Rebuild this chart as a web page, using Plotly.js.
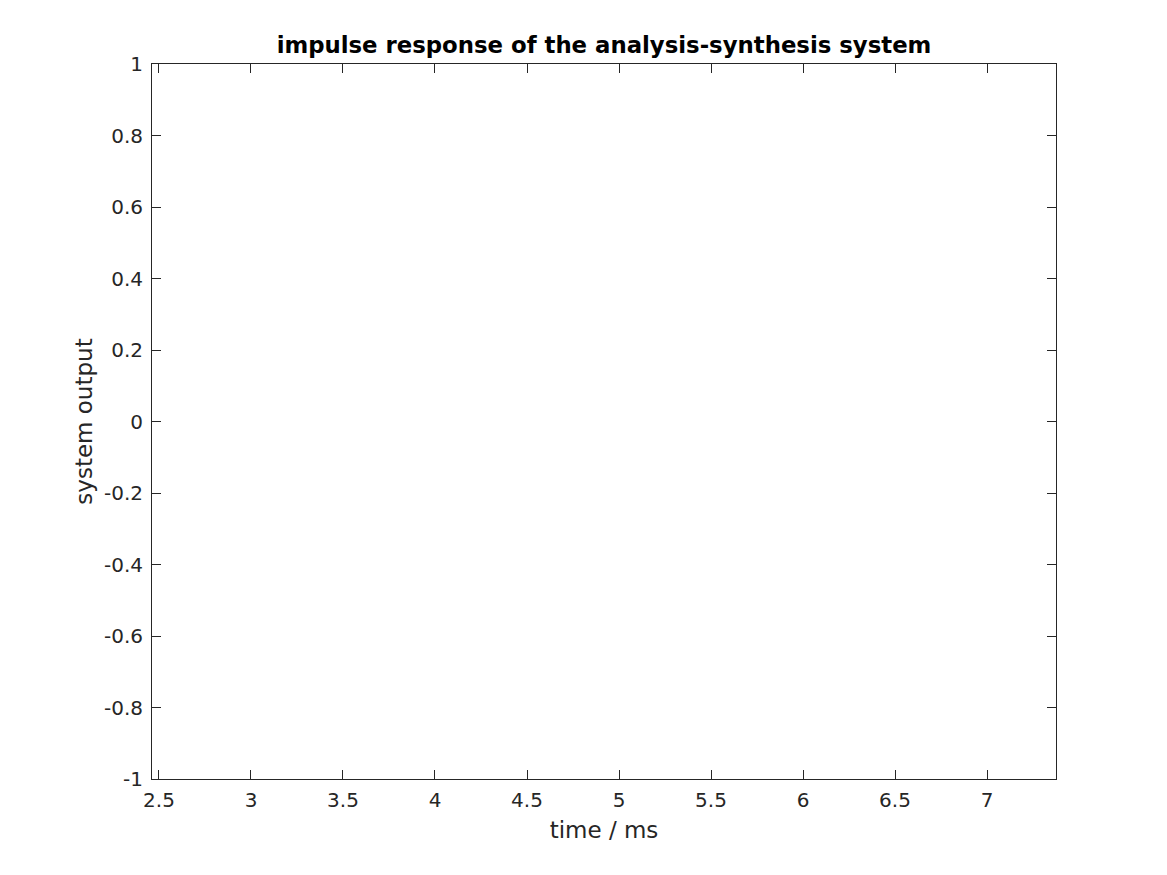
<!DOCTYPE html>
<html>
<head>
<meta charset="utf-8">
<script src="https://cdn.plot.ly/plotly-3.0.1.min.js"></script>
<style>html,body{margin:0;padding:0;background:#fff;}#chart{width:1167px;height:875px;}</style>
</head>
<body>
<div id="chart"></div>
<script>
// The reference shows an empty axes: no visible samples.
const time_ms = [];
const system_output = [];
const xTickVals = [2.5, 3, 3.5, 4, 4.5, 5, 5.5, 6, 6.5, 7];
const xTickText = ['2.5', '3', '3.5', '4', '4.5', '5', '5.5', '6', '6.5', '7'];
const yTickVals = [-1, -0.8, -0.6, -0.4, -0.2, 0, 0.2, 0.4, 0.6, 0.8, 1];
const yTickText = ['-1', '-0.8', '-0.6', '-0.4', '-0.2', '0', '0.2', '0.4', '0.6', '0.8', '1'];

const axisCommon = {
  showgrid: false, zeroline: false, showline: true, mirror: 'ticks',
  linecolor: '#262626', linewidth: 1, ticks: 'inside', ticklen: 9,
  tickcolor: '#262626', tickwidth: 1,
  tickfont: {family: 'DejaVu Sans', size: 20, color: '#262626'},
  tickmode: 'array'
};

Plotly.newPlot('chart', [{
  x: time_ms, y: system_output, type: 'scatter', mode: 'lines',
  line: {color: '#0072bd', width: 1}, showlegend: false
}], {
  width: 1167, height: 875,
  paper_bgcolor: '#ffffff', plot_bgcolor: '#ffffff',
  margin: {l: 152, r: 111, t: 64, b: 96},
  title: {text: '<b>impulse response of the analysis-synthesis system</b>',
    font: {family: 'DejaVu Sans', size: 22.8, color: '#000000'},
    x: 0.5, xanchor: 'center', xref: 'paper', y: 1, yref: 'paper', yanchor: 'bottom', pad: {b: 11}},
  xaxis: Object.assign({}, axisCommon, {
    range: [2.462, 7.375], tickvals: xTickVals, ticktext: xTickText,
    ticklabelstandoff: 3,
    title: {text: 'time / ms', font: {family: 'DejaVu Sans', size: 23, color: '#262626'}, standoff: 10}
  }),
  yaxis: Object.assign({}, axisCommon, {
    range: [-1, 1], tickvals: yTickVals, ticktext: yTickText,
    ticklabelstandoff: 4,
    title: {text: 'system output', font: {family: 'DejaVu Sans', size: 23, color: '#262626'}, standoff: 4}
  })
}, {displayModeBar: false, staticPlot: true});
</script>
</body>
</html>
